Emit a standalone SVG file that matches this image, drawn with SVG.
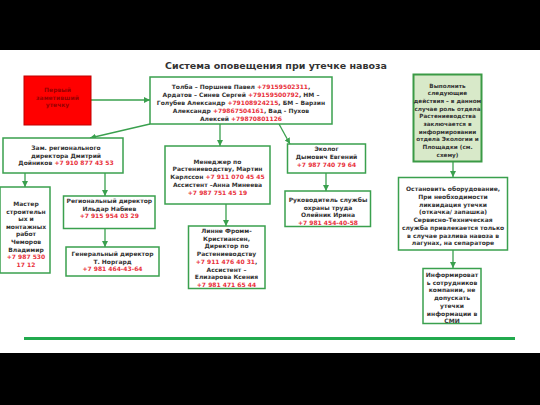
<svg xmlns="http://www.w3.org/2000/svg" width="540" height="405" viewBox="0 0 540 405">
<style>
.box{fill:#ffffff;stroke:#3aa04e;stroke-width:1.5}
.gbox{fill:#d8e9c9;stroke:#3a9a45;stroke-width:2}
.rbox{fill:#ff0000;stroke:#c00000;stroke-width:1}
text{font-family:"DejaVu Sans",Verdana,sans-serif;font-weight:bold;font-size:6px;fill:#333333;text-anchor:middle}
.gt{font-size:5.7px}
.rt{fill:#9a0000}
.ph{fill:#e8303a}
.title{font-size:9.5px;fill:#333333}
.con line{stroke:#3aa04e;stroke-width:1.3;marker-end:url(#ah)}
</style>
<defs>
<marker id="ah" markerUnits="userSpaceOnUse" markerWidth="6" markerHeight="6" refX="6" refY="3" orient="auto">
<path d="M0,0 L6,3 L0,6 z" fill="#3aa04e"/>
</marker>
</defs>
<rect x="0" y="0" width="540" height="405" fill="#ffffff"/>
<rect x="0" y="0" width="540" height="50" fill="#000000"/>
<rect x="0" y="353" width="540" height="52" fill="#000000"/>
<text class="title" x="276" y="69">Система оповещения при утечке навоза</text>
<line x1="24" y1="338.5" x2="515" y2="338.5" stroke="#22aa4e" stroke-width="2.8"/>

<g class="con">
<line x1="91" y1="100" x2="150" y2="100"/>
<line x1="150" y1="124" x2="90" y2="138"/>
<line x1="220" y1="124" x2="220" y2="146"/>
<line x1="279" y1="124" x2="290" y2="144"/>
<line x1="25" y1="173" x2="25" y2="187"/>
<line x1="105" y1="173" x2="105" y2="196"/>
<line x1="105" y1="228" x2="105" y2="247"/>
<line x1="226" y1="204" x2="226" y2="226"/>
<line x1="326" y1="173" x2="326" y2="191"/>
<line x1="453" y1="161" x2="453" y2="177"/>
<line x1="453" y1="250" x2="453" y2="268"/>
</g>

<g id="first">
<rect class="rbox" x="24" y="76" width="67" height="49"/>
<text class="rt" x="57.5" y="92">Первый</text>
<text class="rt" x="57.5" y="99.5">заметивший</text>
<text class="rt" x="57.5" y="107">утечку</text>
</g>

<g id="top">
<rect class="box" x="150" y="77" width="182" height="47"/>
<text x="241" y="88.5">Толба – Поршнев Павел <tspan class="ph">+79159502311</tspan>,</text>
<text x="241" y="96.5">Ардатов – Синев Сергей <tspan class="ph">+79159500792</tspan>, НМ –</text>
<text x="241" y="104.5">Голубев Александр <tspan class="ph">+79108924215</tspan>, БМ – Варзин</text>
<text x="241" y="112.5">Александр      <tspan class="ph">+79867504161</tspan>, Вад - Пухов</text>
<text x="241" y="120.5">Алексей  <tspan class="ph">+79870801126</tspan></text>
</g>

<g id="actions">
<rect class="gbox" x="413.5" y="74.5" width="68" height="87"/>
<text class="gt" x="447.5" y="87.5">Выполнить</text>
<text class="gt" x="447.5" y="95.2">следующие</text>
<text class="gt" x="447.5" y="102.9">действия – в данном</text>
<text class="gt" x="447.5" y="110.6">случае роль отдела</text>
<text class="gt" x="447.5" y="118.3">Растениеводства</text>
<text class="gt" x="447.5" y="126">заключается в</text>
<text class="gt" x="447.5" y="133.7">информировании</text>
<text class="gt" x="447.5" y="141.4">отдела Экологии и</text>
<text class="gt" x="447.5" y="149.1">Площадки (см.</text>
<text class="gt" x="447.5" y="156.8">схему)</text>
</g>

<g id="zam">
<rect class="box" x="3" y="138" width="120" height="35"/>
<text x="66" y="150.3">Зам. регионального</text>
<text x="66" y="157.8">директора Дмитрий</text>
<text x="66" y="165.3">Дойников <tspan class="ph">+7 910 877 43 53</tspan></text>
</g>

<g id="master">
<rect class="box" x="0" y="187" width="50" height="86"/>
<text x="26" y="206">Мастер</text>
<text x="26" y="213.6">строительн</text>
<text x="26" y="221.2">ых и</text>
<text x="26" y="228.8">монтажных</text>
<text x="26" y="236.4">работ</text>
<text x="26" y="244">Чеморов</text>
<text x="26" y="251.6">Владимир</text>
<text x="26" y="259.2" class="ph">+7 987 530</text>
<text x="26" y="266.8" class="ph">17 12</text>
</g>

<g id="regdir">
<rect class="box" x="63.5" y="196" width="91.5" height="32.5"/>
<text x="109.3" y="203">Региональный директор</text>
<text x="109.3" y="210.7">Ильдар Набиев</text>
<text x="109.3" y="218.4" class="ph">+7 915 954 03 29</text>
</g>

<g id="gendir">
<rect class="box" x="66" y="247" width="93" height="29"/>
<text x="112.5" y="256">Генеральный директор</text>
<text x="112.5" y="263.7">Т. Норгард</text>
<text x="112.5" y="271.4" class="ph">+7 981 464-43-64</text>
</g>

<g id="manager">
<rect class="box" x="165" y="146" width="105" height="58"/>
<text x="217.5" y="163.7">Менеджер по</text>
<text x="217.5" y="171.4">Растениеводству, Мартин</text>
<text x="217.5" y="179.1">Карлссон <tspan class="ph">+7 911 070 45 45</tspan></text>
<text x="217.5" y="186.8">Ассистент –Анна Минеева</text>
<text x="217.5" y="194.5" class="ph">+7 987 751 45 19</text>
</g>

<g id="linne">
<rect class="box" x="188.5" y="226" width="76.5" height="62.5"/>
<text x="226.5" y="233">Линне Фромм-</text>
<text x="226.5" y="240.7">Кристиансен,</text>
<text x="226.5" y="248.4">Директор по</text>
<text x="226.5" y="256.1">Растениеводству</text>
<text x="226.5" y="263.8"><tspan class="ph">+7 911 476 40 31</tspan>,</text>
<text x="226.5" y="271.5">Ассистент –</text>
<text x="226.5" y="279.2">Елизарова Ксения</text>
<text x="226.5" y="286.9" class="ph">+7 981 471 65 44</text>
</g>

<g id="eco">
<rect class="box" x="287.5" y="144" width="78" height="29"/>
<text x="326.5" y="151.3">Эколог</text>
<text x="326.5" y="159">Дымович Евгений</text>
<text x="326.5" y="166.7" class="ph">+7 987 740 79 64</text>
</g>

<g id="ruk">
<rect class="box" x="285" y="191" width="85.5" height="35.5"/>
<text x="328" y="202">Руководитель службы</text>
<text x="328" y="209.7">охраны труда</text>
<text x="328" y="217.4">Олейник Ирина</text>
<text x="328" y="225.1" class="ph">+7 981 454-40-58</text>
</g>

<g id="stop">
<rect class="box" x="398.5" y="177.5" width="109" height="72.5"/>
<text x="453" y="191.3">Остановить оборудование,</text>
<text x="453" y="199">При необходимости</text>
<text x="453" y="206.7">ликвидация утечки</text>
<text x="453" y="214.4">(откачка/ запашка)</text>
<text x="453" y="222.1">Сервисно-Техническая</text>
<text x="453" y="229.8">служба привлекается только</text>
<text x="453" y="237.5">в случае разлива навоза в</text>
<text x="453" y="245.2">лагунах, на сепараторе</text>
</g>

<g id="inform">
<rect class="box" x="423" y="268.5" width="58" height="55"/>
<text x="452" y="277">Информироват</text>
<text x="452" y="284.7">ь сотрудников</text>
<text x="452" y="292.4">компании, не</text>
<text x="452" y="300.1">допускать</text>
<text x="452" y="307.8">утечки</text>
<text x="452" y="315.5">информации в</text>
<text x="452" y="323.2">СМИ</text>
</g>
</svg>
